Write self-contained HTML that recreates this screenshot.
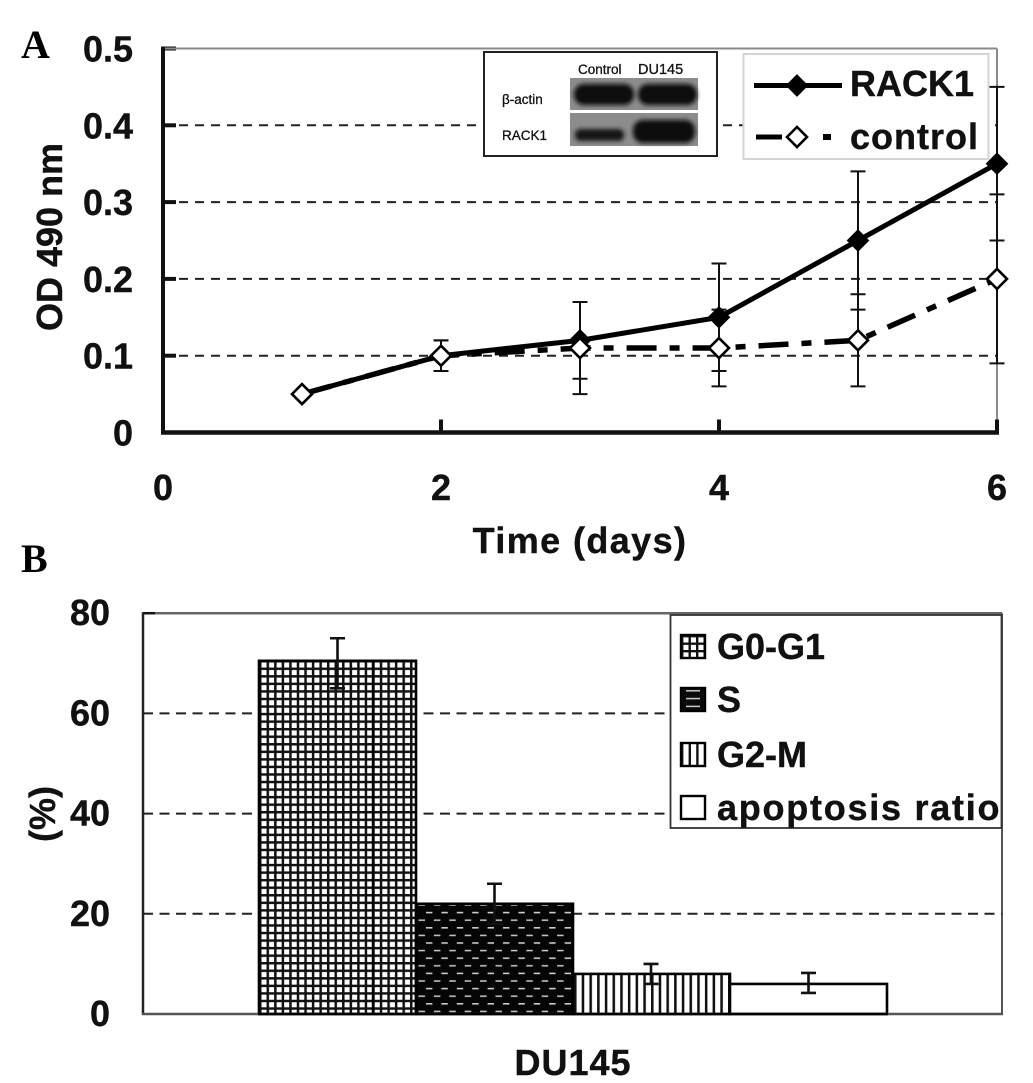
<!DOCTYPE html>
<html>
<head>
<meta charset="utf-8">
<title>RACK1 proliferation and cell cycle in DU145</title>
<style>
html,body{margin:0;padding:0;background:#fff;}
svg{display:block;}
text{font-family:"Liberation Sans",Arial,sans-serif;font-weight:bold;fill:#111;stroke:#111;stroke-width:0.4px;}
</style>
</head>
<body>
<svg id="fig" xmlns="http://www.w3.org/2000/svg" width="1033" height="1083" viewBox="0 0 1033 1083">
<defs>
<pattern id="p-grid" patternUnits="userSpaceOnUse" width="7.55" height="7.55" x="259" y="660">
<rect width="7.55" height="7.55" fill="#fff"/>
<path d="M1.2 0V7.55M0 1.2H7.55" stroke="#111" stroke-width="2.6"/>
</pattern>
<pattern id="p-dash" patternUnits="userSpaceOnUse" width="15.4" height="15.2" x="416" y="902">
<rect width="15.4" height="15.2" fill="#050505"/>
<path d="M2.5 3H9" stroke="#ccc" stroke-width="1.5"/>
<path d="M10 10.6H15.4M0 10.6H1" stroke="#ccc" stroke-width="1.5"/>
</pattern>
<pattern id="p-vert" patternUnits="userSpaceOnUse" width="7.7" height="10" x="574" y="974">
<rect width="7.7" height="10" fill="#fff"/>
<path d="M1.2 0V10" stroke="#111" stroke-width="2.7"/>
</pattern>
<pattern id="p-vert-small" patternUnits="userSpaceOnUse" width="7.6" height="10" x="681" y="743">
<rect width="7.6" height="10" fill="#fff"/>
<path d="M1.2 0V10" stroke="#111" stroke-width="2.4"/>
</pattern>
<pattern id="p-grid-small" patternUnits="userSpaceOnUse" width="7.5" height="7.5" x="681" y="635">
<rect width="7.5" height="7.5" fill="#fff"/>
<path d="M1.2 0V7.5M0 1.2H7.5" stroke="#111" stroke-width="2.4"/>
</pattern>
<pattern id="p-dash-small" patternUnits="userSpaceOnUse" width="25" height="7.8" x="681" y="688">
<rect width="25" height="7.8" fill="#0a0a0a"/>
<path d="M5 2.8H19" stroke="#ccc" stroke-width="1.5"/>
</pattern>
<filter id="blot-blur" x="-20%" y="-40%" width="140%" height="180%"><feGaussianBlur stdDeviation="2"/></filter>
</defs>
<g id="root"></g>
</svg>
<script>
// Panel A data
const dayValues = [1, 2, 3, 4, 5, 6];
const rack1Values = [0.05, 0.10, 0.12, 0.15, 0.25, 0.35];
const controlValues = [0.05, 0.10, 0.11, 0.11, 0.12, 0.20];
const rack1Upper = [0.05, 0.12, 0.17, 0.22, 0.34, 0.45];
const rack1Lower = [0.05, 0.08, 0.07, 0.08, 0.16, 0.25];
const controlUpper = [0.06, 0.12, 0.17, 0.16, 0.18, 0.31];
const controlLower = [0.04, 0.08, 0.05, 0.06, 0.06, 0.09];
const xTicksA = [0, 2, 4, 6];
const yTicksA = [0, 0.1, 0.2, 0.3, 0.4, 0.5];
const yTickLabelsA = ['0', '0.1', '0.2', '0.3', '0.4', '0.5'];
// Panel B data
const phaseNames = ['G0-G1', 'S', 'G2-M', 'apoptosis ratio'];
const phaseValues = [70.5, 22, 8, 6];
const phaseUpper = [75, 26, 10, 8.2];
const phaseLower = [65, 18, 6, 4.2];
const yTicksB = [0, 20, 40, 60, 80];

const NS = 'http://www.w3.org/2000/svg';
const root = document.getElementById('root');
function mk(tag, attrs, parent) {
  const el = document.createElementNS(NS, tag);
  for (const k in attrs) el.setAttribute(k, attrs[k]);
  (parent || root).appendChild(el);
  return el;
}
function txt(str, attrs, parent) {
  const el = mk('text', attrs, parent);
  el.textContent = str;
  return el;
}

// Axis functions
const xA = v => 163 + 139 * v;
const yA = v => 432.5 - 768 * v;
const xB = i => 259 + 157 * i;
const yB = v => 1014 - 5.01 * v;

// Panel letters
const letterA = txt('A', {x: 21, y: 58, 'font-size': 40});
letterA.setAttribute('style', 'font-family:"Liberation Serif",serif;fill:#000;stroke:none');


const letterB = txt('B', {x: 21, y: 572, 'font-size': 40});
letterB.setAttribute('style', 'font-family:"Liberation Serif",serif;fill:#000;stroke:none');



// ---------- Panel A ----------
const gA = mk('g', {});



yTicksA.forEach((t, i) => {
  if (t > 0 && t < 0.5) {
    const g = mk('line', {x1: xA(0), x2: xA(6), y1: yA(t), y2: yA(t), stroke: '#222', 'stroke-width': 2, 'stroke-dasharray': '9 7'}, gA);
    
    
  }
  const tk = mk('line', {x1: xA(0), x2: xA(0) + 13, y1: yA(t), y2: yA(t), stroke: '#111', 'stroke-width': 4}, gA);
  
  
  const lb = txt(yTickLabelsA[i], {x: 133, y: yA(t) + 13, 'font-size': 36, 'text-anchor': 'end'}, gA);
  
  
});

const topA = mk('line', {x1: xA(0), x2: xA(6), y1: yA(0.5), y2: yA(0.5), stroke: '#8a8a8a', 'stroke-width': 2}, gA);


const rightA = mk('line', {x1: xA(6), x2: xA(6), y1: yA(0.5), y2: yA(0), stroke: '#8a8a8a', 'stroke-width': 2}, gA);


const leftA = mk('line', {x1: xA(0), x2: xA(0), y1: yA(0.5) - 2, y2: yA(0) + 2, stroke: '#111', 'stroke-width': 4}, gA);


const botA = mk('line', {x1: xA(0) - 2, x2: xA(6) + 2, y1: yA(0), y2: yA(0), stroke: '#111', 'stroke-width': 4.5}, gA);



xTicksA.forEach(t => {
  const tk = mk('line', {x1: xA(t), x2: xA(t), y1: yA(0), y2: yA(0) - 13, stroke: '#111', 'stroke-width': 4}, gA);
  
  
  const lb = txt(String(t), {x: xA(t), y: 500, 'font-size': 36, 'text-anchor': 'middle'}, gA);
  
  
});

const yTitleA = txt('OD 490 nm', {transform: 'translate(62 237) rotate(-90)', 'font-size': 36, 'text-anchor': 'middle'}, gA);


const xTitleA = txt('Time (days)', {x: 580, y: 553, 'font-size': 36, 'text-anchor': 'middle', 'letter-spacing': 1.4}, gA);



// error bars
function errorBar(cx, up, lo, parent, w, sw) {
  const e = mk('path', {d: `M${cx} ${up}V${lo}M${cx - w} ${up}H${cx + w}M${cx - w} ${lo}H${cx + w}`, fill: 'none', stroke: '#111', 'stroke-width': sw}, parent);
  return e;
}
dayValues.forEach((d, i) => {
  if (d === 1) return;
  const e1 = errorBar(xA(d), yA(rack1Upper[i]), yA(rack1Lower[i]), gA, 7.5, 2);
  
  
  const e2 = errorBar(xA(d), yA(controlUpper[i]), yA(controlLower[i]), gA, 7.5, 2);
  
  
});

const ptsControl = dayValues.map((d, i) => xA(d) + ',' + yA(controlValues[i])).join(' ');
const lineControl = mk('polyline', {points: ptsControl, fill: 'none', stroke: '#000', 'stroke-width': 5.5, 'stroke-dasharray': '30 13 10 13'}, gA);


const ptsRack = dayValues.map((d, i) => xA(d) + ',' + yA(rack1Values[i])).join(' ');
const lineRack = mk('polyline', {points: ptsRack, fill: 'none', stroke: '#000', 'stroke-width': 5}, gA);



function diamond(cx, cy, r, fill, parent) {
  return mk('path', {d: `M${cx} ${cy - r}L${cx + r} ${cy}L${cx} ${cy + r}L${cx - r} ${cy}Z`, fill: fill, stroke: '#000', 'stroke-width': 2.6}, parent);
}
dayValues.forEach((d, i) => {
  const m = diamond(xA(d), yA(rack1Values[i]), 9.5, '#000', gA);
  
  
});
dayValues.forEach((d, i) => {
  const m = diamond(xA(d), yA(controlValues[i]), 10, '#fff', gA);
  
  
});

// Western blot inset
const inset = mk('g', {});


const insetBox = mk('rect', {x: 484, y: 52, width: 233, height: 104, fill: '#fff', stroke: '#222', 'stroke-width': 2}, inset);


const blot1 = mk('rect', {x: 570, y: 78, width: 128, height: 32, fill: '#8c8c8c'}, inset);


const blot2 = mk('rect', {x: 570, y: 113, width: 128, height: 33, fill: '#8c8c8c'}, inset);


const band1 = mk('rect', {x: 574, y: 84, width: 60, height: 21, rx: 10, fill: '#111', filter: 'url(#blot-blur)'}, inset);


const band2 = mk('rect', {x: 638, y: 84, width: 59, height: 21, rx: 10, fill: '#111', filter: 'url(#blot-blur)'}, inset);


const band3 = mk('rect', {x: 575, y: 129, width: 49, height: 12, rx: 5, fill: '#161616', filter: 'url(#blot-blur)'}, inset);


const band4 = mk('rect', {x: 633, y: 120, width: 62, height: 23, rx: 10, fill: '#111', filter: 'url(#blot-blur)'}, inset);


const insetC = txt('Control', {x: 578, y: 74, 'font-size': 13.5}, inset);
insetC.setAttribute('style', 'font-weight:normal;stroke-width:0.3px');


const insetD = txt('DU145', {x: 638, y: 74, 'font-size': 14.5}, inset);
insetD.setAttribute('style', 'font-weight:normal;stroke-width:0.3px');


const insetAct = txt('β-actin', {x: 502, y: 104, 'font-size': 13.5}, inset);
insetAct.setAttribute('style', 'font-weight:normal;stroke-width:0.3px');


const insetR = txt('RACK1', {x: 502, y: 140, 'font-size': 13.5}, inset);
insetR.setAttribute('style', 'font-weight:normal;stroke-width:0.3px');



// Legend A
const legA = mk('g', {});


const legABox = mk('rect', {x: 743.5, y: 54, width: 245, height: 105, fill: '#fff', stroke: '#d4d4d4', 'stroke-width': 2}, legA);


const legL1 = mk('line', {x1: 754, x2: 842, y1: 85.5, y2: 85.5, stroke: '#000', 'stroke-width': 5}, legA);


const legM1 = diamond(797, 85.5, 9.5, '#000', legA);


const legT1 = txt('RACK1', {x: 850, y: 96, 'font-size': 36}, legA);


const legL2 = mk('line', {x1: 756, x2: 782, y1: 137, y2: 137, stroke: '#000', 'stroke-width': 5}, legA);


const legDot = mk('rect', {x: 823, y: 134, width: 8, height: 6, fill: '#000'}, legA);


const legM2 = diamond(797, 137, 10, '#fff', legA);


const legT2 = txt('control', {x: 850, y: 149, 'font-size': 36, 'letter-spacing': 1}, legA);



// ---------- Panel B ----------
const gB = mk('g', {});


const frameTop = mk('line', {x1: 143, x2: 1002, y1: yB(80), y2: yB(80), stroke: '#666', 'stroke-width': 2.5}, gB);


const frameRight = mk('line', {x1: 1002, x2: 1002, y1: yB(80), y2: yB(0), stroke: '#555', 'stroke-width': 2}, gB);



yTicksB.forEach(t => {
  if (t > 0 && t < 80) {
    const g = mk('line', {x1: 143, x2: 1002, y1: yB(t), y2: yB(t), stroke: '#222', 'stroke-width': 2, 'stroke-dasharray': '10 6.5'}, gB);
    
    
  }
  const lb = txt(String(t), {x: 110, y: yB(t) + 12, 'font-size': 36, 'text-anchor': 'end'}, gB);
  
  
});
const tickTopB = mk('line', {x1: 143, x2: 155, y1: yB(80), y2: yB(80), stroke: '#111', 'stroke-width': 2.5}, gB);



const phaseFills = ['url(#p-grid)', 'url(#p-dash)', 'url(#p-vert)', '#fff'];
phaseValues.forEach((v, i) => {
  const b = mk('rect', {x: xB(i), y: yB(v), width: 157, height: yB(0) - yB(v), fill: phaseFills[i], stroke: '#000', 'stroke-width': 2.6}, gB);
  
  
});
const barDivider = mk('line', {x1: xB(0) + 114, x2: xB(0) + 114, y1: yB(phaseValues[0]), y2: yB(0), stroke: '#000', 'stroke-width': 2.5}, gB);



phaseValues.forEach((v, i) => {
  const cx = xB(i) + 78.5 + (i === 2 ? -0.5 : 0);
  const e = errorBar(cx, yB(phaseUpper[i]), yB(phaseLower[i]), gB, 7.5, 2.6);
  
  
});

const leftB = mk('line', {x1: 143, x2: 143, y1: yB(80) - 1, y2: yB(0) + 1, stroke: '#222', 'stroke-width': 2.5}, gB);


const botB = mk('line', {x1: 142, x2: 1003, y1: yB(0), y2: yB(0), stroke: '#555', 'stroke-width': 2.5}, gB);


phaseValues.forEach((v, i) => {
  const s = mk('line', {x1: xB(i) - 1, x2: xB(i) + 158, y1: yB(0), y2: yB(0), stroke: '#000', 'stroke-width': 2.6}, gB);
  
  
});

const yTitleB = txt('(%)', {transform: 'translate(55 814) rotate(-90)', 'font-size': 36, 'text-anchor': 'middle'}, gB);


const xTitleB = txt('DU145', {x: 573, y: 1075, 'font-size': 36, 'text-anchor': 'middle', 'letter-spacing': 1}, gB);



// Legend B
const legB = mk('g', {});


const legBBox = mk('rect', {x: 670.5, y: 615, width: 331, height: 213, fill: '#fff', stroke: '#333', 'stroke-width': 1.8}, legB);


const legFills = ['url(#p-grid-small)', 'url(#p-dash-small)', 'url(#p-vert-small)', '#fff'];
const legRowY = [647, 700, 755, 808];
phaseNames.forEach((name, i) => {
  const sw = mk('rect', {x: 681, y: legRowY[i] - 12, width: 24, height: 23, fill: legFills[i], stroke: '#000', 'stroke-width': 2.4}, legB);
  
  
  const t = txt(name, {x: 717, y: legRowY[i] + 12, 'font-size': 36, 'letter-spacing': i === 3 ? 1.75 : 0}, legB);
  
  
});
</script>
</body>
</html>
